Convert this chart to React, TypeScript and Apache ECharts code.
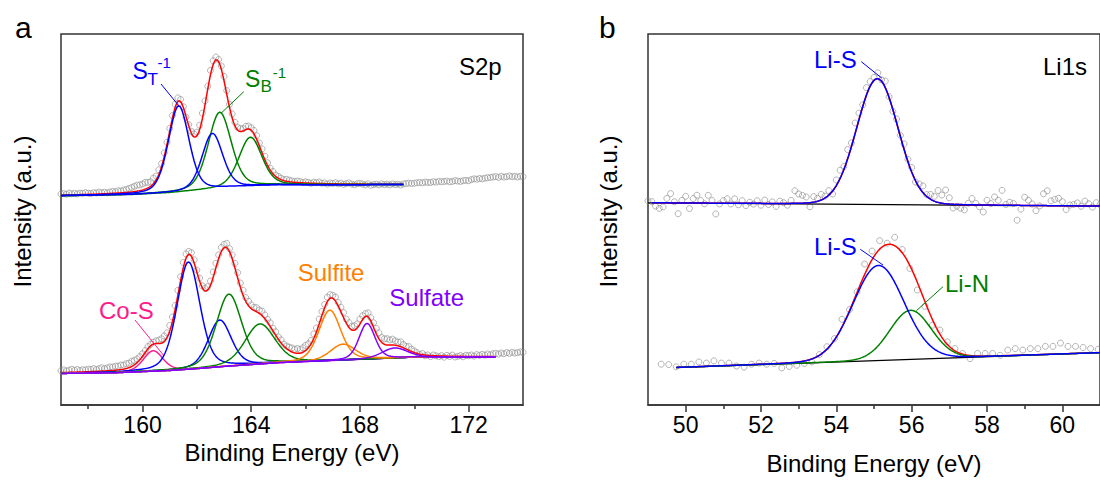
import React, { useEffect, useRef } from "react";
import * as echarts from "echarts";

// ================= Panel a : S2p =================
const s2pAxisMin = 157;
const s2pAxisMax = 174;
const s2pMajorTicks = [160, 164, 168, 172];
const s2pMinorTicks = [158, 162, 166, 170];
const s2pGLMix = 0.3;

// upper spectrum (fitted doublets)
const s2pTopKinds = ["ST", "ST", "SB", "SB"];
const s2pTopCenters = [161.33, 162.57, 162.84, 163.97];
const s2pTopHeights = [23.2, 15.0, 20.5, 13.2];
const s2pTopFwhm = [0.9, 0.9, 1.0, 1.0];
const s2pTopBaseX = [157, 159.6, 161, 162.1, 163.3, 164.3, 165, 169.6];
const s2pTopBaseY = [56.4, 56.7, 57.2, 57.9, 58.7, 59.1, 59.3, 59.4];
const s2pTopFitRange = [157, 169.6];
const s2pRawStart = 157;
const s2pRawStep = 0.1;
const s2pTopResidual = [
  0.3, 0.4, 0.2, 0.5, 0.3, 0.4, 0.2, 0.4, 0.3, 0.5,
  0.3, 0.2, 0.4, 0.3, 0.5, 0.3, 0.4, 0.2, 0.4, 0.5,
  0.4, 0.6, 0.5, 0.7, 0.8, 1.0, 1.2, 1.4, 1.6, 1.5,
  1.6, 1.8, 1.5, 1.2, 1.5, 1.0, 1.2, 0.8, 1.0, 0.6,
  0.8, 0.7, 0.9, 1.0, 0.6, 0.2, -0.2, 0.3, 0.5, 0.8,
  1.0, 1.2, 1.5, 1.0, 0.8, 1.2, 1.0, 0.8, 0.6, 0.9,
  1.2, 1.0, 0.8, 1.1, 0.9, 0.7, 0.8, 0.6, 0.9, 0.8,
  0.7, 0.9, 1.0, 0.8, 1.1, 0.9, 0.7, 0.5, 0.6, 0.4,
  0.5, 0.4, 0.3, 0.5, 0.4, 0.3, 0.2, 0.4, 0.3, 0.1,
  0.3, 0.2, 0.0, 0.3, 0.2, 0.4, 0.1, 0.2, -0.1, 0.2,
  0.1, 0.3, 0.0, 0.2, -0.1, 0.1, 0.3, 0.0, -0.2, 0.1,
  0.2, 0.0, -0.2, 0.1, -0.3, -0.1, 0.0, -0.2, 0.1, -0.1,
  0.0, -0.2, 0.1, -0.1, 0.0, -0.2, 0.1, 0.2, 0.3, 0.2,
  0.3, 0.4, 0.5, 0.4, 0.6, 0.5, 0.5, 0.7, 0.6, 0.8,
  0.7, 0.8, 0.9, 0.7, 0.8, 1.0, 0.9, 0.8, 1.0, 1.1,
  1.0, 1.3, 1.5, 1.4, 1.6, 1.5, 1.7, 1.8, 1.9, 2.0,
  2.1, 1.9, 2.2, 2.0, 2.1, 2.3, 2.1, 2.2, 2.0, 2.2,
  2.1,
];

// lower spectrum
const s2pBotKinds = ["CoS", "ST", "ST", "SB", "SB", "Sulfite", "Sulfite", "Sulfate", "Sulfate"];
const s2pBotCenters = [160.39, 161.69, 162.84, 163.18, 164.32, 166.89, 167.38, 168.26, 169.28];
const s2pBotHeights = [5.5, 28.9, 12.6, 19.4, 10.8, 13.6, 4.3, 9.6, 2.7];
const s2pBotFwhm = [0.85, 1.0, 1.0, 1.1, 1.3, 0.95, 1.1, 0.7, 1.1];
const s2pBotBaseX = [157, 159, 160, 161, 162, 163, 164, 165, 166, 167, 168, 169, 170, 173];
const s2pBotBaseY = [8.5, 8.7, 9.0, 9.3, 9.8, 10.4, 10.9, 11.4, 11.7, 12.0, 12.3, 12.6, 12.9, 12.9];
const s2pBotFitRange = [157, 173];
const s2pBotResidual = [
  0.5, 0.7, 0.4, 0.6, 0.8, 0.5, 0.7, 0.4, 0.6, 0.5,
  0.7, 0.6, 0.8, 0.5, 0.7, 0.9, 0.6, 0.8, 1.0, 0.9,
  1.1, 1.0, 1.2, 1.1, 1.3, 1.2, 1.4, 1.2, 1.0, 0.8,
  0.7, 0.5, 0.6, 0.4, 0.5, 0.7, 0.9, 1.2, 1.5, 1.3,
  1.5, 1.2, 1.0, 1.3, 1.1, 1.4, 1.2, 0.8, 1.0, 0.9,
  0.6, 0.8, 0.5, 0.7, 0.9, 1.1, 1.4, 1.2, 1.0, 1.1,
  0.9, 1.2, 0.8, 1.0, 1.2, 1.4, 1.1, 1.3, 1.0, 1.2,
  1.0, 0.8, 1.1, 0.9, 1.2, 1.0, 0.8, 1.0, 0.7, 0.9,
  0.6, 0.8, 0.5, 0.7, 0.9, 1.1, 1.0, 1.3, 1.0, 1.2,
  1.4, 1.1, 0.9, 1.2, 1.0, 1.3, 1.1, 0.9, 1.2, 1.0,
  0.8, 1.1, 0.9, 1.2, 1.4, 1.1, 1.3, 1.0, 1.2, 1.1,
  1.3, 1.0, 0.8, 1.1, 0.9, 1.2, 1.4, 1.6, 1.3, 1.5,
  1.7, 1.4, 1.6, 1.2, 1.0, 1.3, 0.9, 0.7, 1.0, 0.6,
  0.4, 0.2, -0.1, 0.3, -0.2, 0.1, -0.3, 0.2, 0.0, -0.2,
  0.1, -0.3, 0.2, -0.1, 0.3, -0.2, 0.0, 0.2, -0.1, 0.3,
  0.2, 0.4, 0.1, 0.5, 0.3, 0.6, 0.4, 0.7, 0.5, 0.8,
  0.9, 0.7, 1.0, 0.8, 1.1, 0.9, 1.2, 1.0, 1.1, 1.3,
  1.2,
];

// ================= Panel b : Li1s =================
const li1sAxisMin = 49;
const li1sAxisMax = 61;
const li1sMajorTicks = [50, 52, 54, 56, 58, 60];
const li1sMinorTicks = [51, 53, 55, 57, 59];
const li1sGLMix = 0.05;

const li1sTopKinds = ["LiS"];
const li1sTopCenters = [55.09];
const li1sTopHeights = [33.9];
const li1sTopFwhm = [1.3];
const li1sTopBaseX = [49, 61];
const li1sTopBaseY = [54.5, 53.6];
const li1sTopFitRange = [49.1, 61];
const li1sTopRawStart = 49.0;
const li1sTopRawStep = 0.1;
const li1sTopResidual = [
  0.5, 0.3, -0.9, -1.5, -1.1, 1.2, 2.5, 0.3, -2.9, 0.7,
  1.8, -1.5, 1.2, 2.1, 0.7, -0.2, 2.1, 0.7, -2.9, -0.2,
  0.7, 1.2, -0.2, 1.2, -0.4, 0.7, -0.6, 0.3, -0.2, 0.7,
  -0.5, 0.9, -0.3, 0.4, -0.8, 0.6, 0.2, -0.5, 0.8, 3.4,
  2.5, 2.1, 1.6, -1.1, 1.5, 0.8, 1.5, 0.5, 1.2, -0.8,
  1.5, 2.2, 0.8, 2.5, 1.0, 2.8, 1.8, 0.5, 2.0, 1.2,
  0.8, 1.6, 0.4, 1.8, 0.2, -0.5, 1.0, 0.3, 1.5, 0.6,
  1.2, -0.4, 0.9, 1.8, 0.5, 1.3, 1.3, 3.2, 2.2, 3.7,
  1.7, -1.0, -0.5, -1.0, -1.4, 0.4, 1.7, 0.4, -0.5, -1.9,
  1.3, 0.4, 2.2, 1.3, 4.0, 0.2, 0.8, 0.5, -4.0, -1.0,
  2.2, 1.4, 0.4, -1.4, -0.1, 3.2, 4.0, 1.3, 1.7, 2.0,
  1.1, -1.0, 0.2, 0.4, 0.8, -0.1, 1.3, 0.6, -0.3, 0.9,
  0.4,
];

const li1sBotKinds = ["LiS", "LiN"];
const li1sBotCenters = [55.12, 55.97];
const li1sBotHeights = [25.6, 13.2];
const li1sBotFwhm = [1.6, 1.3];
const li1sBotBaseX = [49.75, 61];
const li1sBotBaseY = [10.1, 14.1];
const li1sBotFitRange = [49.75, 61];
const li1sBotRawStart = 49.35;
const li1sBotRawStep = 0.2;
const li1sBotRaw = [
  11.0, 10.9, 10.3, 11.0, 11.0, 11.6, 11.3, 11.9, 11.3, 11.3,
  10.5, 10.2, 11.0, 11.3, 11.0, 11.2, 10.0, 10.4, 10.7, 11.2,
  11.6, 13.6, 15.7, 17.9, 23.1, 25.7, 30.5, 38.0, 41.5, 44.3,
  43.6, 45.2, 41.9, 36.8, 31.0, 26.6, 21.5, 20.2, 17.0, 15.2,
  13.9, 12.5, 13.9, 13.9, 13.9, 13.4, 14.8, 15.2, 14.8, 15.2,
  15.2, 15.8, 15.8, 16.7, 15.8, 15.8, 15.5, 15.2, 15.0,
];

// ================= styles =================
const FONT = '"Liberation Sans", Arial, Helvetica, sans-serif';
const KIND_COLOR: Record<string, string> = {
  ST: "#0000ff",
  SB: "#008000",
  CoS: "#ff1a8c",
  Sulfite: "#ff8000",
  Sulfate: "#8000ff",
  LiS: "#0000ff",
  LiN: "#008000",
};
const ENVELOPE_COLOR = "#ff0000";
const BASELINE_COLOR = "#000000";
const RAW_COLOR = "#8a8a8a";
const FRAME_COLOR = "#333333";

// ================= helpers =================
const sampleGrid = (a: number, b: number, step: number) =>
  Array.from({ length: Math.round((b - a) / step) + 1 }, (_, i) => +(a + i * step).toFixed(4));

const interp = (xs: number[], ys: number[], x: number) => {
  if (x <= xs[0]) return ys[0];
  if (x >= xs[xs.length - 1]) return ys[ys.length - 1];
  for (let i = 1; i < xs.length; i++) {
    if (x <= xs[i]) {
      const t = (x - xs[i - 1]) / (xs[i] - xs[i - 1]);
      return ys[i - 1] + t * (ys[i] - ys[i - 1]);
    }
  }
  return ys[ys.length - 1];
};

const peak = (x: number, c: number, h: number, w: number, m: number) => {
  const t = (x - c) / w;
  return h * ((1 - m) * Math.exp(-4 * Math.LN2 * t * t) + m / (1 + 4 * t * t));
};

type Spec = {
  centers: number[];
  heights: number[];
  fwhm: number[];
  baseX: number[];
  baseY: number[];
  fit: number[];
  mix: number;
};

const makeModel = (s: Spec) => {
  const base = (x: number) => interp(s.baseX, s.baseY, x);
  const comp = (k: number, x: number) => peak(x, s.centers[k], s.heights[k], s.fwhm[k], s.mix);
  const env = (x: number) => s.centers.reduce((acc, _, k) => acc + comp(k, x), base(x));
  const xs = sampleGrid(s.fit[0], s.fit[1], 0.02);
  return { base, comp, env, xs };
};

const lineSeries = (data: number[][], color: string, axis: number, width = 1.5) => ({
  type: "line",
  xAxisIndex: axis * 2,
  yAxisIndex: axis,
  data,
  showSymbol: false,
  symbol: "none",
  silent: true,
  z: 3,
  lineStyle: { color, width },
  itemStyle: { color },
});

const rawSeries = (data: number[][], axis: number, size: number) => ({
  type: "scatter",
  xAxisIndex: axis * 2,
  yAxisIndex: axis,
  data,
  symbol: "circle",
  symbolSize: size,
  silent: true,
  z: 2,
  itemStyle: { color: "rgba(0,0,0,0)", borderColor: RAW_COLOR, borderWidth: 0.8 },
});

function buildOption() {
  const series: any[] = [];

  // ---- S2p top ----
  const st = makeModel({
    centers: s2pTopCenters, heights: s2pTopHeights, fwhm: s2pTopFwhm,
    baseX: s2pTopBaseX, baseY: s2pTopBaseY, fit: s2pTopFitRange, mix: s2pGLMix,
  });
  series.push(rawSeries(s2pTopResidual.map((r, i) => {
    const x = +(s2pRawStart + i * s2pRawStep).toFixed(3);
    return [x, st.env(x) + r];
  }), 0, 6));
  series.push(lineSeries(st.xs.map((x) => [x, st.env(x)]), ENVELOPE_COLOR, 0));
  [2, 3, 0, 1].forEach((k) =>
    series.push(lineSeries(st.xs.map((x) => [x, st.base(x) + st.comp(k, x)]), KIND_COLOR[s2pTopKinds[k]], 0))
  );

  // ---- S2p bottom ----
  const sb = makeModel({
    centers: s2pBotCenters, heights: s2pBotHeights, fwhm: s2pBotFwhm,
    baseX: s2pBotBaseX, baseY: s2pBotBaseY, fit: s2pBotFitRange, mix: s2pGLMix,
  });
  series.push(rawSeries(s2pBotResidual.map((r, i) => {
    const x = +(s2pRawStart + i * s2pRawStep).toFixed(3);
    return [x, sb.env(x) + r];
  }), 0, 6));
  series.push(lineSeries(sb.xs.map((x) => [x, sb.env(x)]), ENVELOPE_COLOR, 0));
  s2pBotCenters.forEach((_, k) =>
    series.push(lineSeries(sb.xs.map((x) => [x, sb.base(x) + sb.comp(k, x)]), KIND_COLOR[s2pBotKinds[k]], 0))
  );

  // ---- Li1s top ----
  const lt = makeModel({
    centers: li1sTopCenters, heights: li1sTopHeights, fwhm: li1sTopFwhm,
    baseX: li1sTopBaseX, baseY: li1sTopBaseY, fit: li1sTopFitRange, mix: li1sGLMix,
  });
  series.push(rawSeries(li1sTopResidual.map((r, i) => {
    const x = +(li1sTopRawStart + i * li1sTopRawStep).toFixed(3);
    return [x, lt.env(x) + r];
  }), 1, 6));
  series.push(lineSeries(li1sTopBaseX.map((x, i) => [x, li1sTopBaseY[i]]), BASELINE_COLOR, 1, 1.2));
  series.push(lineSeries(lt.xs.map((x) => [x, lt.env(x)]), ENVELOPE_COLOR, 1));
  li1sTopCenters.forEach((_, k) =>
    series.push(lineSeries(lt.xs.map((x) => [x, lt.base(x) + lt.comp(k, x)]), KIND_COLOR[li1sTopKinds[k]], 1))
  );

  // ---- Li1s bottom ----
  const lb = makeModel({
    centers: li1sBotCenters, heights: li1sBotHeights, fwhm: li1sBotFwhm,
    baseX: li1sBotBaseX, baseY: li1sBotBaseY, fit: li1sBotFitRange, mix: li1sGLMix,
  });
  series.push(rawSeries(li1sBotRaw.map((v, i) => [+(li1sBotRawStart + i * li1sBotRawStep).toFixed(3), v]), 1, 6));
  series.push(lineSeries(li1sBotBaseX.map((x, i) => [x, li1sBotBaseY[i]]), BASELINE_COLOR, 1, 1.2));
  series.push(lineSeries(lb.xs.map((x) => [x, lb.env(x)]), ENVELOPE_COLOR, 1));
  [1, 0].forEach((k) =>
    series.push(lineSeries(lb.xs.map((x) => [x, lb.base(x) + lb.comp(k, x)]), KIND_COLOR[li1sBotKinds[k]], 1))
  );

  const mainX = (grid: number, min: number, max: number, majors: number[], gap: number) => ({
    gridIndex: grid,
    type: "value",
    position: "bottom",
    min,
    max,
    axisLine: { show: true, onZero: false, lineStyle: { color: FRAME_COLOR, width: 1.5 } },
    axisTick: { show: true, inside: false, length: 7, customValues: majors, lineStyle: { color: FRAME_COLOR, width: 1.5 } },
    axisLabel: { show: true, customValues: majors, fontSize: 23, color: "#000", fontFamily: FONT, margin: 8 },
    splitLine: { show: false },
    name: "Binding Energy (eV)",
    nameLocation: "middle",
    nameGap: gap,
    nameTextStyle: { fontSize: 24, color: "#000", fontFamily: FONT },
  });
  const minorX = (grid: number, min: number, max: number, minors: number[]) => ({
    gridIndex: grid,
    type: "value",
    position: "bottom",
    offset: 0,
    min,
    max,
    axisLine: { show: false, onZero: false },
    axisTick: { show: true, inside: false, length: 4, customValues: minors, lineStyle: { color: FRAME_COLOR, width: 1.5 } },
    axisLabel: { show: false },
    splitLine: { show: false },
  });

  const txt = (text: string, x: number, y: number, size: number, color: string, extra: any = {}) => ({
    type: "text",
    x,
    y,
    silent: true,
    z: 100,
    ...extra,
    style: {
      text,
      fill: color,
      fontSize: size,
      fontFamily: FONT,
      textAlign: extra.align || "left",
      textVerticalAlign: "middle",
    },
  });
  const lead = (x1: number, y1: number, x2: number, y2: number, color: string) => ({
    type: "line",
    silent: true,
    z: 100,
    shape: { x1, y1, x2, y2 },
    style: { stroke: color, lineWidth: 1 },
  });

  const graphic = [
    txt("a", 15, 27, 30, "#000"),
    txt("b", 599, 27, 30, "#000"),
    txt("S2p", 459, 66.7, 24, "#000"),
    txt("Li1s", 1043, 66.7, 24, "#000"),
    txt("Intensity (a.u.)", 22, 211.5, 24, "#000", { rotation: Math.PI / 2, align: "center" }),
    txt("Intensity (a.u.)", 608.3, 211.5, 24, "#000", { rotation: Math.PI / 2, align: "center" }),
    // S_T^-1
    txt("S", 132.5, 70.5, 23, KIND_COLOR.ST),
    txt("T", 147.5, 79.6, 17, KIND_COLOR.ST),
    txt("-1", 157.5, 62.8, 15, KIND_COLOR.ST),
    lead(161, 84, 179, 106, KIND_COLOR.ST),
    // S_B^-1
    txt("S", 245, 79.1, 23, KIND_COLOR.SB),
    txt("B", 260.5, 86.8, 17, KIND_COLOR.SB),
    txt("-1", 272.7, 72.1, 15, KIND_COLOR.SB),
    lead(243.8, 91.7, 221, 113.3, KIND_COLOR.SB),
    // lower spectrum labels
    txt("Co-S", 99, 310, 24, KIND_COLOR.CoS),
    lead(135, 320, 163.3, 355, KIND_COLOR.CoS),
    txt("Sulfite", 297.7, 272.7, 24, KIND_COLOR.Sulfite),
    txt("Sulfate", 389.3, 297.7, 24, KIND_COLOR.Sulfate),
    // Li1s labels
    txt("Li-S", 814, 59.7, 24, KIND_COLOR.LiS),
    lead(861.3, 61.7, 882, 78.3, KIND_COLOR.LiS),
    txt("Li-S", 814, 246.7, 24, KIND_COLOR.LiS),
    lead(860.3, 249.3, 883, 265, KIND_COLOR.LiS),
    txt("Li-N", 945, 283.4, 24, KIND_COLOR.LiN),
    lead(943, 286.7, 916.4, 310.7, KIND_COLOR.LiN),
  ];

  return {
    animation: false,
    backgroundColor: "#ffffff",
    textStyle: { fontFamily: FONT },
    grid: [
      { left: 61, top: 34, width: 462, height: 371, show: true, borderColor: FRAME_COLOR, borderWidth: 1.5, backgroundColor: "transparent", containLabel: false },
      { left: 648, top: 34, width: 461, height: 371, show: true, borderColor: FRAME_COLOR, borderWidth: 1.5, backgroundColor: "transparent", containLabel: false },
    ],
    xAxis: [
      mainX(0, s2pAxisMin, s2pAxisMax, s2pMajorTicks, 35),
      minorX(0, s2pAxisMin, s2pAxisMax, s2pMinorTicks),
      mainX(1, li1sAxisMin, li1sAxisMax, li1sMajorTicks, 46),
      minorX(1, li1sAxisMin, li1sAxisMax, li1sMinorTicks),
    ],
    yAxis: [
      { gridIndex: 0, type: "value", min: 0, max: 100, show: false },
      { gridIndex: 1, type: "value", min: 0, max: 100, show: false },
    ],
    series,
    graphic,
  };
}

export default function App() {
  const ref = useRef<HTMLDivElement>(null);
  useEffect(() => {
    if (!ref.current) return;
    const chart = echarts.init(ref.current, null, { renderer: "svg" });
    chart.setOption(buildOption() as any);
    return () => chart.dispose();
  }, []);
  return (
    <div
      ref={ref}
      style={{ position: "fixed", left: 0, top: 0, width: 1100, height: 480, background: "#fff" }}
    />
  );
}
